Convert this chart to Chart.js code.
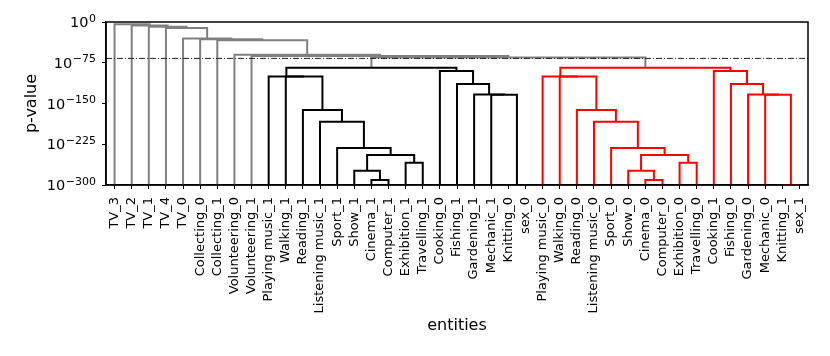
<!DOCTYPE html>
<html>
<head>
<meta charset="utf-8">
<script src="https://cdn.jsdelivr.net/npm/chart.js@4.4.1/dist/chart.umd.min.js"></script>
<style>
  html, body { margin: 0; padding: 0; background: #fff; }
  #wrap { width: 830px; height: 356px; }
</style>
</head>
<body>
<div id="wrap"><canvas id="chart" width="830" height="356"></canvas></div>
<script>
// leaves in dendrogram order
const leafLabels = [
  "TV_3", "TV_2", "TV_1", "TV_4", "TV_0", "Collecting_0", "Collecting_1",
  "Volunteering_0", "Volunteering_1",
  "Playing music_1", "Walking_1", "Reading_1", "Listening music_1", "Sport_1",
  "Show_1", "Cinema_1", "Computer_1", "Exhibition_1", "Travelling_1",
  "Cooking_0", "Fishing_1", "Gardening_1", "Mechanic_1", "Knitting_0", "sex_0",
  "Playing music_0", "Walking_0", "Reading_0", "Listening music_0", "Sport_0",
  "Show_0", "Cinema_0", "Computer_0", "Exhibition_0", "Travelling_0",
  "Cooking_1", "Fishing_0", "Gardening_0", "Mechanic_0", "Knitting_1", "sex_1"
];

// linkage: [left node, right node, log10(p)]; leaves are 0..40, merge k is node 41 + k
const merges = [
  [15, 16, -291], [14, 41, -274], [17, 18, -259], [42, 43, -245], [13, 44, -232],
  [12, 45, -183.5], [11, 46, -162], [10, 47, -100.5], [9, 48, -100.5],
  [23, 24, -300], [22, 50, -134], [21, 51, -133.5], [20, 52, -114], [19, 53, -90],
  [49, 54, -84],
  [31, 32, -291], [30, 56, -274], [33, 34, -259], [57, 58, -245], [29, 59, -232],
  [28, 60, -183.5], [27, 61, -162], [26, 62, -100.5], [25, 63, -100.5],
  [39, 40, -300], [38, 65, -134], [37, 66, -133.5], [36, 67, -114], [35, 68, -90],
  [64, 69, -84],
  [55, 70, -65.5], [8, 71, -62.5], [7, 72, -60.5], [6, 73, -33.5], [5, 74, -31.8],
  [4, 75, -30.4], [3, 76, -11], [2, 77, -8.7], [1, 78, -6.4], [0, 79, -4.2]
];

const yTickExponents = [0, -75, -150, -225, -300];
const cutExponent = -67;
const clusterColors = ["#000000", "#ff0000"];
const aboveCutColor = "#808080";

const yMin = -300;
const nLeaves = leafLabels.length;

// node positions, the way scipy places them
const nodeX = leafLabels.map((_, i) => i * 10 + 5);
const nodeY = leafLabels.map(() => yMin);
merges.forEach(([a, b, h]) => {
  nodeX.push((nodeX[a] + nodeX[b]) / 2);
  nodeY.push(h);
});

// colour each cluster under the cut
const nodeColor = [];
let nextColor = 0;
function paint(id, inherited) {
  if (id < nLeaves) return;
  const [a, b, h] = merges[id - nLeaves];
  let c = inherited;
  if (!c && h <= cutExponent) c = clusterColors[nextColor++ % clusterColors.length];
  nodeColor[id] = c || aboveCutColor;
  paint(a, c);
  paint(b, c);
}
paint(nLeaves + merges.length - 1, null);

const linkSets = merges.map(([a, b, h], k) => ({
  data: [
    { x: nodeX[a], y: nodeY[a] },
    { x: nodeX[a], y: h },
    { x: nodeX[b], y: h },
    { x: nodeX[b], y: nodeY[b] },
  ],
  borderColor: nodeColor[nLeaves + k],
  borderWidth: 2,
  pointRadius: 0,
  showLine: true,
  fill: false,
}));

const cutSet = {
  data: [{ x: 0, y: cutExponent }, { x: nLeaves * 10, y: cutExponent }],
  borderColor: "#222",
  borderWidth: 1,
  borderDash: [6, 2, 1, 2],
  pointRadius: 0,
  showLine: true,
  fill: false,
};

const font = "DejaVu Sans";

const framePlugin = {
  id: "frame",
  afterDatasetsDraw(chart) {
    const { ctx, chartArea: a } = chart;
    ctx.save();
    ctx.strokeStyle = "#000";
    ctx.lineWidth = 1.5;
    ctx.strokeRect(a.left, a.top, a.right - a.left, a.bottom - a.top);
    ctx.restore();
  },
};

// 10^e labels with a raised, smaller exponent
const powerTickPlugin = {
  id: "powerTicks",
  afterDraw(chart) {
    const s = chart.scales.y;
    const ctx = chart.ctx;
    ctx.save();
    ctx.fillStyle = "#000";
    ctx.textAlign = "right";
    ctx.textBaseline = "alphabetic";
    yTickExponents.forEach((e) => {
      const y = s.getPixelForValue(e);
      const exp = e === 0 ? "0" : "\u2212" + String(-e);
      const right = s.right - 10;
      ctx.font = `11px ${font}`;
      const expW = ctx.measureText(exp).width;
      ctx.fillText(exp, right, y - 0.5);
      ctx.font = `14.5px ${font}`;
      ctx.fillText("10", right - expW - 0.5, y + 5);
    });
    ctx.restore();
  },
};

new Chart(document.getElementById("chart"), {
  type: "scatter",
  data: { datasets: [cutSet, ...linkSets] },
  options: {
    responsive: false,
    animation: false,
    layout: { padding: { top: 22, right: 22, left: 0, bottom: 0 } },
    plugins: { legend: { display: false }, tooltip: { enabled: false } },
    scales: {
      x: {
        type: "linear",
        min: 0,
        max: nLeaves * 10,
        afterBuildTicks: (s) => { s.ticks = nodeX.slice(0, nLeaves).map((v) => ({ value: v })); },
        afterFit: (s) => { s.height = 171; },
        ticks: {
          autoSkip: false,
          maxRotation: 90,
          minRotation: 90,
          padding: 8,
          color: "#000",
          font: { family: font, size: 13 },
          callback: (v, i) => leafLabels[i],
        },
        grid: { drawOnChartArea: false, tickLength: 4, color: "#000", tickWidth: 1 },
        border: { color: "#000", width: 1.5 },
        title: {
          display: true, text: "entities", color: "#000",
          font: { family: font, size: 16 }, padding: { top: 0, bottom: 21 },
        },
      },
      y: {
        type: "linear",
        min: yMin,
        max: 0,
        afterBuildTicks: (s) => { s.ticks = yTickExponents.map((v) => ({ value: v })); },
        afterFit: (s) => { s.width = 106; },
        ticks: { callback: () => "" },
        grid: { drawOnChartArea: false, tickLength: 4, color: "#000", tickWidth: 1 },
        border: { color: "#000", width: 1.5 },
        title: {
          display: true, text: "p-value", color: "#000",
          font: { family: font, size: 16 }, padding: { top: 22, bottom: 0 },
        },
      },
    },
  },
  plugins: [framePlugin, powerTickPlugin],
});
</script>
</body>
</html>
